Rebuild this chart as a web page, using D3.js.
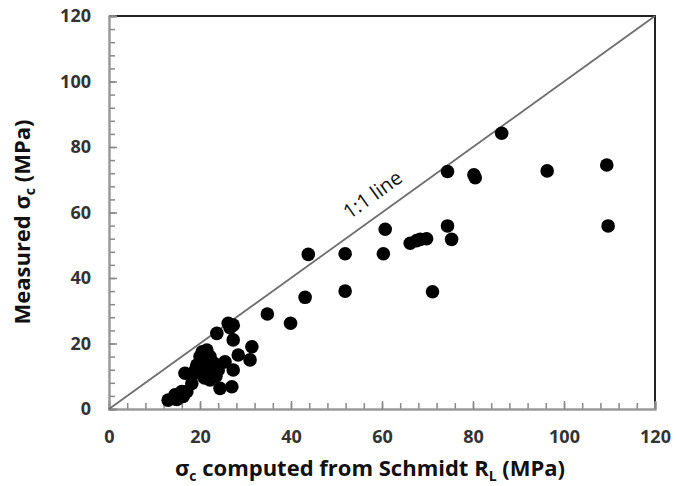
<!DOCTYPE html>
<html>
<head>
<meta charset="utf-8">
<script src="https://cdn.jsdelivr.net/npm/d3@7"></script>
<style>
  body { margin: 0; background: #fff; }
  svg { display: block; }
</style>
</head>
<body>
<div id="chart"></div>
<script>
// sigma_c computed from Schmidt R_L (MPa)
const computed = [
  13.0, 14.2, 14.9, 15.6, 16.3, 16.0, 17.1, 14.5, 16.7, 18.2,
  18.5, 20.0, 19.3, 20.7, 20.0, 21.5, 22.2, 20.5, 22.2, 22.9,
  24.0, 23.0, 21.5, 24.4, 27.0, 25.5, 27.3, 28.4, 31.0, 31.4,
  27.3, 23.7, 26.2, 27.3, 26.6, 34.8, 39.9, 43.1, 43.8, 51.9,
  51.9, 60.3, 60.7, 66.2, 67.6, 68.4, 69.8, 71.1, 74.4, 75.3,
  74.4, 80.2, 80.5, 86.3, 96.3, 109.4, 109.7, 19.0, 21.0, 23.5
];
// measured sigma_c (MPa)
const measured = [
  2.7, 3.2, 2.9, 4.8, 3.8, 5.3, 5.3, 4.3, 10.9, 7.8,
  10.9, 10.9, 13.4, 14.0, 16.0, 18.0, 16.0, 17.5, 8.9, 11.9,
  11.9, 14.0, 12.5, 6.3, 6.8, 14.4, 11.9, 16.5, 15.0, 19.0,
  21.1, 23.1, 26.2, 25.6, 24.8, 29.0, 26.2, 34.1, 47.2, 36.0,
  47.4, 47.4, 54.9, 50.6, 51.4, 51.8, 52.0, 35.8, 55.9, 51.8,
  72.5, 71.5, 70.6, 84.2, 72.7, 74.5, 55.9, 12.0, 9.5, 10.0
];
const majorTicks = [0, 20, 40, 60, 80, 100, 120];
const minorTicks = d3.range(0, 121, 4);
const lineLabel = "1:1 line";

const W = 678, H = 486;
const margin = { top: 16, right: 23, bottom: 77, left: 109 },
    width = W - margin.left - margin.right,
    height = H - margin.top - margin.bottom;

const svg = d3.select("#chart")
    .append("svg")
    .attr("width", W)
    .attr("height", H)
    .append("g")
    .attr("transform", `translate(${margin.left},${margin.top})`);

const x = d3.scaleLinear().domain([0, 120]).range([0, width]);
const y = d3.scaleLinear().domain([0, 120]).range([height, 0]);

// top and right frame
svg.append("path")
    .attr("d", `M0,0H${width}V${height}`)
    .attr("fill", "none")
    .attr("stroke", "#222")
    .attr("stroke-width", 2);

// minor ticks
svg.append("g")
    .attr("class", "axis")
    .attr("transform", `translate(0,${height})`)
    .call(d3.axisBottom(x).tickValues(minorTicks).tickSize(-6).tickFormat(""));
svg.append("g")
    .attr("class", "axis")
    .call(d3.axisLeft(y).tickValues(minorTicks).tickSize(-6).tickFormat(""));

// major ticks + labels
svg.append("g")
    .attr("class", "axis")
    .attr("transform", `translate(0,${height})`)
    .call(d3.axisBottom(x).tickValues(majorTicks).tickSize(-8).tickPadding(21));
svg.append("g")
    .attr("class", "axis")
    .call(d3.axisLeft(y).tickValues(majorTicks).tickSize(-8).tickPadding(18));

svg.selectAll(".axis path").attr("stroke", "#999").attr("stroke-width", 2);
svg.selectAll(".axis line").attr("stroke", "#888").attr("stroke-width", 1.5);
svg.selectAll(".axis text")
    .attr("fill", "#333")
    .style("font-family", "'Open Sans', sans-serif")
    .style("font-weight", "bold")
    .style("font-size", "18px");

// 1:1 line
svg.append("line")
    .attr("x1", x(0)).attr("y1", y(0))
    .attr("x2", x(120)).attr("y2", y(120))
    .attr("stroke", "#6e6e6e")
    .attr("stroke-width", 1.8);

const angle = Math.atan2(y(120) - y(0), x(120) - x(0)) * 180 / Math.PI;
svg.append("text")
    .attr("transform", `translate(${x(60.5)},${y(60.5)}) rotate(${angle})`)
    .attr("y", -13)
    .attr("text-anchor", "middle")
    .style("font-family", "'Open Sans', sans-serif")
    .style("font-size", "20px")
    .attr("fill", "#111")
    .text(lineLabel);

// points
svg.append("g")
    .selectAll("circle")
    .data(computed.map((c, i) => ({ c: c, m: measured[i] })))
    .join("circle")
    .attr("cx", d => x(d.c))
    .attr("cy", d => y(d.m))
    .attr("r", 6.8)
    .attr("fill", "#000");

// X axis title
const xt = svg.append("text")
    .attr("x", 261)
    .attr("y", height + 67)
    .attr("text-anchor", "middle")
    .style("font-family", "'Open Sans', sans-serif")
    .style("font-weight", "bold")
    .style("font-size", "22px")
    .attr("fill", "#111");
xt.append("tspan").text("σ");
xt.append("tspan").attr("dy", 5).style("font-size", "14px").text("c");
xt.append("tspan").attr("dy", -5).text(" computed from Schmidt R");
xt.append("tspan").attr("dy", 5).style("font-size", "14px").text("L");
xt.append("tspan").attr("dy", -5).text(" (MPa)");

// Y axis title
const yt = svg.append("text")
    .attr("transform", "rotate(-90)")
    .attr("x", -206)
    .attr("y", -79)
    .attr("text-anchor", "middle")
    .style("font-family", "'Open Sans', sans-serif")
    .style("font-weight", "bold")
    .style("font-size", "22px")
    .attr("fill", "#111");
yt.append("tspan").text("Measured σ");
yt.append("tspan").attr("dy", 5).style("font-size", "14px").text("c");
yt.append("tspan").attr("dy", -5).text("  (MPa)");
</script>
</body>
</html>
